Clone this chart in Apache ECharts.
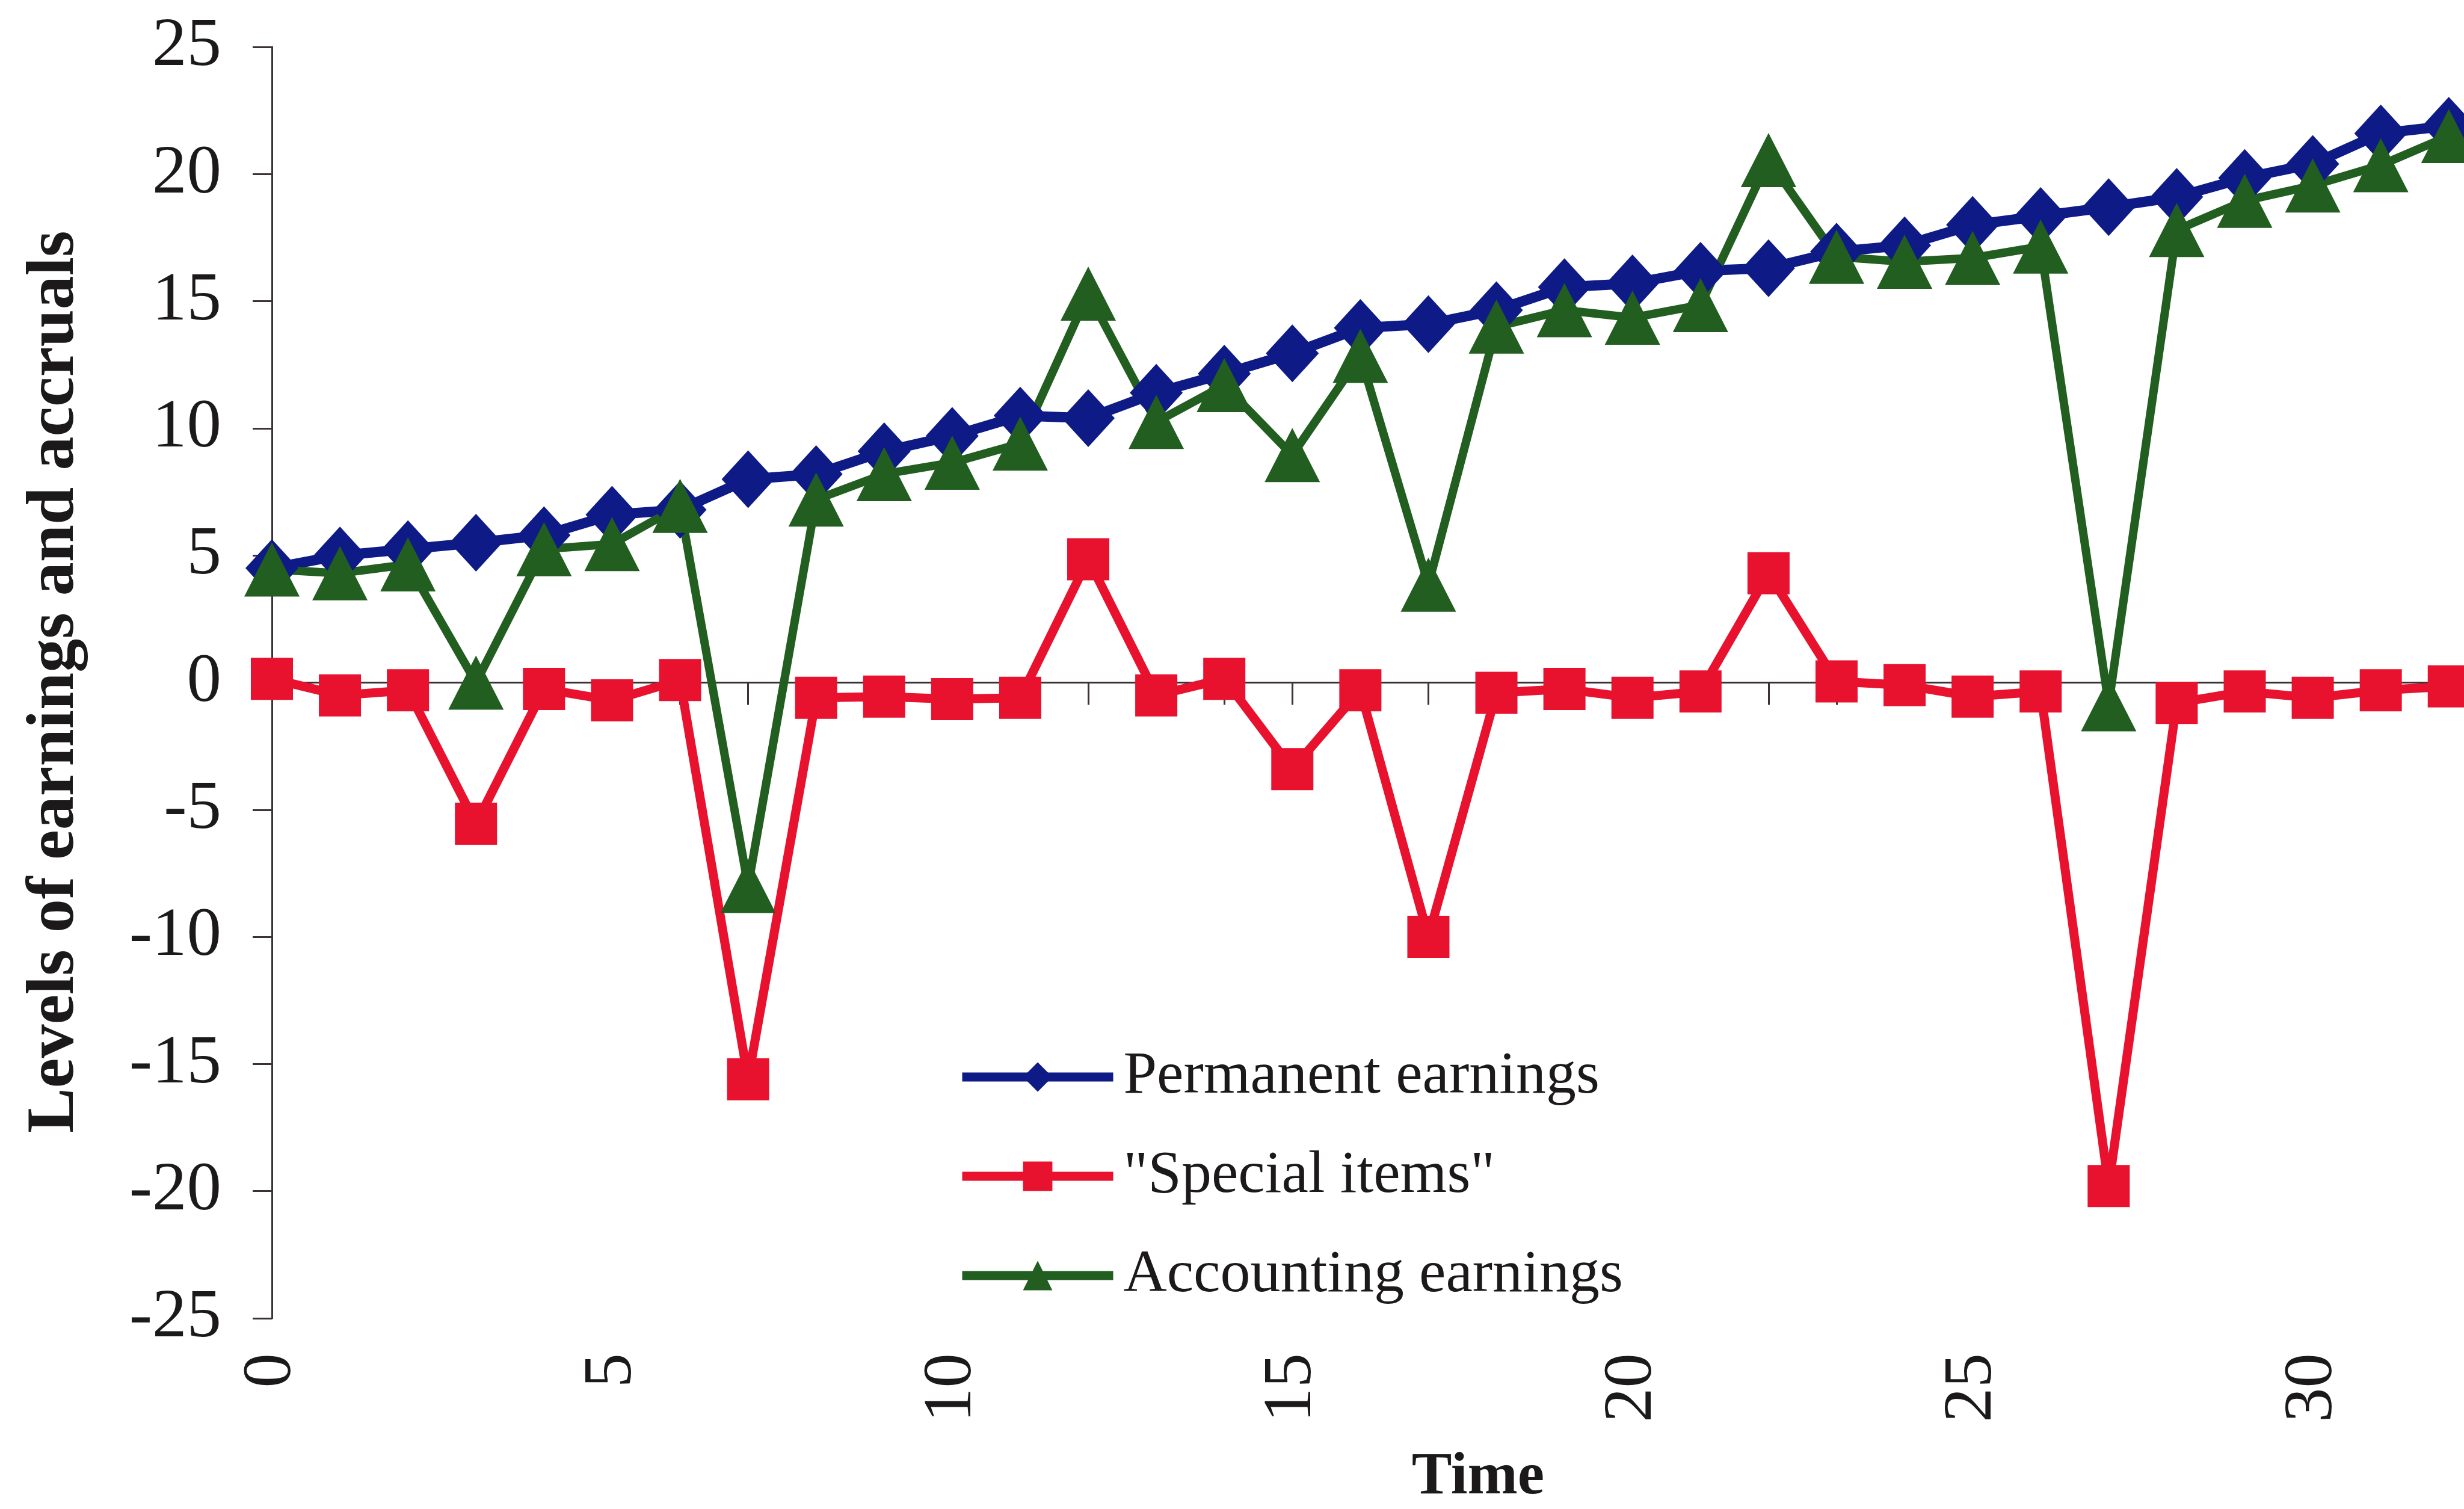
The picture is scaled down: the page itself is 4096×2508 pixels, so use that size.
<!DOCTYPE html>
<html>
<head>
<meta charset="utf-8">
<title>Levels of earnings and accruals</title>
<script src="https://cdn.jsdelivr.net/npm/echarts@6.0.0/dist/echarts.min.js"></script>
<style>
  html, body { margin: 0; padding: 0; background: #ffffff; }
  #chart { width: 4096px; height: 2508px; }
</style>
</head>
<body>
<div id="chart"></div>
<script>
// Time periods
const periods = [0, 1, 2, 3, 4, 5, 6, 7, 8, 9, 10, 11, 12, 13, 14, 15, 16,
                 17, 18, 19, 20, 21, 22, 23, 24, 25, 26, 27, 28, 29, 30, 31, 32];

// Permanent earnings
const permanentEarnings = [4.5, 5.0, 5.25, 5.5, 5.8, 6.6, 6.8, 8.0, 8.2, 9.1, 9.7,
                           10.5, 10.4, 11.4, 12.15, 12.95, 13.95, 14.1, 14.65, 15.55,
                           15.7, 16.2, 16.3, 16.95, 17.2, 18.0, 18.35, 18.7, 19.1,
                           19.85, 20.4, 21.6, 21.9];

// "Special items"
const specialItems = [0.15, -0.5, -0.3, -5.55, -0.25, -0.7, 0.1, -15.6, -0.6, -0.55,
                      -0.65, -0.6, 4.85, -0.5, 0.15, -3.4, -0.3, -10.0, -0.4, -0.25,
                      -0.6, -0.35, 4.3, 0.05, -0.1, -0.55, -0.35, -19.8, -0.8, -0.35,
                      -0.6, -0.3, -0.15];

// Accounting earnings
const accountingEarnings = [4.45, 4.3, 4.65, 0.0, 5.25, 5.45, 6.95, -8.0, 7.2, 8.2,
                            8.65, 9.4, 15.3, 10.25, 11.7, 8.95, 12.85, 3.85, 14.0,
                            14.65, 14.35, 14.85, 20.55, 16.75, 16.55, 16.7, 17.15,
                            -0.85, 17.8, 18.95, 19.55, 20.35, 21.5];

const seriesNames = ['Permanent earnings', '"Special items"', 'Accounting earnings'];
const yAxisTitle = 'Levels of earnings and accruals';
const xAxisTitle = 'Time';

const FONT = '"Liberation Serif", "Times New Roman", Times, serif';
const AXIS_COLOR = '#3b3236';
const TEXT_COLOR = '#1c191a';
const BLUE = '#0e1a86';
const RED = '#e8122e';
const GREEN = '#215e20';

const pairs = values => periods.map((t, i) => [t, values[i]]);

const chart = echarts.init(document.getElementById('chart'), null, {
  renderer: 'canvas', width: 4096, height: 2508
});

const option = {
  backgroundColor: '#ffffff',
  animation: false,
  grid: {
    left: 452, top: 78, width: 3958, height: 2113,
    containLabel: false, outerBoundsMode: 'none'
  },
  xAxis: [
    {
      // axis line through zero with a tick at every period
      type: 'value', min: 0, max: 35, interval: 1,
      axisLine: { show: true, onZero: true, lineStyle: { color: AXIS_COLOR, width: 3 } },
      axisTick: { show: true, length: 37, lineStyle: { color: AXIS_COLOR, width: 3 } },
      axisLabel: { show: false },
      splitLine: { show: false }
    },
    {
      // period labels along the bottom of the plot
      type: 'value', min: 0, max: 35, interval: 5, position: 'bottom',
      axisLine: { show: false, onZero: false },
      axisTick: { show: false },
      axisLabel: {
        rotate: 90, margin: 58, fontSize: 115, fontFamily: FONT, color: TEXT_COLOR
      },
      splitLine: { show: false }
    }
  ],
  yAxis: {
    type: 'value', min: -25, max: 25, interval: 5,
    axisLine: { show: true, lineStyle: { color: AXIS_COLOR, width: 3 } },
    axisTick: { show: true, length: 32, lineStyle: { color: AXIS_COLOR, width: 3 } },
    axisLabel: { margin: 84, fontSize: 115, fontFamily: FONT, color: TEXT_COLOR },
    splitLine: { show: false }
  },
  legend: {
    orient: 'vertical',
    left: 1592, top: 1740,
    padding: 0,
    itemWidth: 251, itemHeight: 61, itemGap: 65,
    selectedMode: false,
    lineStyle: { width: 15 },
    textStyle: {
      fontFamily: FONT, fontSize: 100, color: TEXT_COLOR,
      lineHeight: 80, padding: [0, 0, 0, 12]
    },
    data: seriesNames
  },
  graphic: [
    {
      type: 'text', x: 92, y: 1883, rotation: Math.PI / 2,
      style: {
        text: yAxisTitle, fill: TEXT_COLOR,
        font: 'bold 112px ' + FONT,
        align: 'left', verticalAlign: 'middle'
      }
    },
    {
      type: 'text', x: 2457, y: 2456,
      style: {
        text: xAxisTitle, fill: TEXT_COLOR,
        font: 'bold 100px ' + FONT,
        align: 'center', verticalAlign: 'middle'
      }
    }
  ],
  series: [
    {
      name: seriesNames[0], type: 'line', xAxisIndex: 0,
      data: pairs(permanentEarnings),
      symbol: 'diamond', symbolSize: [88, 96],
      lineStyle: { color: BLUE, width: 17 },
      itemStyle: { color: BLUE },
      emphasis: { disabled: true }
    },
    {
      name: seriesNames[1], type: 'line', xAxisIndex: 0,
      data: pairs(specialItems),
      symbol: 'rect', symbolSize: 70,
      lineStyle: { color: RED, width: 15 },
      itemStyle: { color: RED },
      emphasis: { disabled: true }
    },
    {
      name: seriesNames[2], type: 'line', xAxisIndex: 0,
      data: pairs(accountingEarnings),
      symbol: 'triangle', symbolSize: [92, 90],
      lineStyle: { color: GREEN, width: 14 },
      itemStyle: { color: GREEN },
      emphasis: { disabled: true }
    }
  ]
};

chart.setOption(option);
</script>
</body>
</html>
